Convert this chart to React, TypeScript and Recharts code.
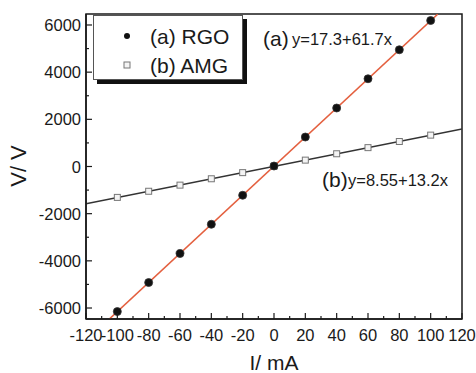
import React from 'react';
import { ComposedChart, Line, XAxis, YAxis, ReferenceArea } from 'recharts';

const currents = [-100, -80, -60, -40, -20, 0, 20, 40, 60, 80, 100];
const rgoVoltage = [-6150, -4920, -3690, -2450, -1220, 20, 1250, 2480, 3720, 4950, 6190];
const amgVoltage = [-1310, -1050, -790, -520, -260, 10, 270, 540, 800, 1060, 1330];

// fitted lines, end points at the plot edges
const rgoFitX = [-104.8, 104.5];
const rgoFitY = [-6450, 6460];
const amgFitX = [-120, 120];
const amgFitY = [-1575, 1593];

const xTicks = [-120, -110, -100, -90, -80, -70, -60, -50, -40, -30, -20, -10, 0, 10, 20, 30, 40, 50, 60, 70, 80, 90, 100, 110, 120];
const yTicks = [-6000, -5000, -4000, -3000, -2000, -1000, 0, 1000, 2000, 3000, 4000, 5000, 6000];

const rgoData = currents.map((x, i) => ({ x, y: rgoVoltage[i] }));
const amgData = currents.map((x, i) => ({ x, y: amgVoltage[i] }));
const rgoFit = rgoFitX.map((x, i) => ({ x, y: rgoFitY[i] }));
const amgFit = amgFitX.map((x, i) => ({ x, y: amgFitY[i] }));

const FONT = 'Liberation Sans, Arial, sans-serif';
const INK = '#1a1a1a';

const XTick = (props: any) => {
  const { x, y, payload } = props;
  const major = payload.value % 20 === 0;
  return (
    <g>
      <line x1={x} y1={y} x2={x} y2={y - (major ? 6 : 3)} stroke={INK} strokeWidth={1.2} />
      {major && (
        <text x={x} y={y + 22} textAnchor="middle" fontSize={16.5} fill={INK} fontFamily={FONT}>
          {payload.value}
        </text>
      )}
    </g>
  );
};

const YTick = (props: any) => {
  const { x, y, payload } = props;
  const major = payload.value % 2000 === 0;
  return (
    <g>
      <line x1={x} y1={y} x2={x + (major ? 6 : 3)} y2={y} stroke={INK} strokeWidth={1.2} />
      {major && (
        <text x={x - 5} y={y + 6} textAnchor="end" fontSize={16.5} fill={INK} fontFamily={FONT}>
          {payload.value}
        </text>
      )}
    </g>
  );
};

const Dot = (props: any) => {
  const { cx, cy } = props;
  return <circle cx={cx} cy={cy} r={4} fill="#111" stroke="#333" strokeWidth={0.8} />;
};

const Square = (props: any) => {
  const { cx, cy } = props;
  return <rect x={cx - 3} y={cy - 3} width={6} height={6} fill="#f4f4f4" stroke="#777" strokeWidth={1} />;
};

export default function App() {
  return (
    <div style={{ position: 'absolute', left: 0, top: 0, width: 476, height: 373, background: '#fff', fontFamily: FONT }}>
      <ComposedChart width={476} height={373} margin={{ top: 14, right: 14, bottom: 0, left: 0 }}>
        <XAxis
          type="number"
          dataKey="x"
          domain={[-120, 120]}
          ticks={xTicks}
          interval={0}
          allowDataOverflow
          height={54}
          tickSize={0}
          tickMargin={0}
          tickLine={false}
          axisLine={{ stroke: INK, strokeWidth: 1.5 }}
          tick={<XTick />}
        />
        <YAxis
          type="number"
          dataKey="y"
          domain={[-6466, 6466]}
          ticks={yTicks}
          interval={0}
          allowDataOverflow
          width={86}
          tickSize={0}
          tickMargin={0}
          tickLine={false}
          axisLine={{ stroke: INK, strokeWidth: 1.5 }}
          tick={<YTick />}
        />
        <ReferenceArea x1={-120} x2={120} y1={-6466} y2={6466} fill="none" stroke={INK} strokeWidth={1.5} />
        <Line data={amgFit} dataKey="y" stroke="#333" strokeWidth={1.5} dot={false} isAnimationActive={false} />
        <Line data={rgoFit} dataKey="y" stroke="#e4603f" strokeWidth={1.5} dot={false} isAnimationActive={false} />
        <Line data={amgData} dataKey="y" stroke="none" dot={<Square />} isAnimationActive={false} />
        <Line data={rgoData} dataKey="y" stroke="none" dot={<Dot />} isAnimationActive={false} />
      </ComposedChart>

      {/* legend box with shadow */}
      <div style={{ position: 'absolute', left: 97, top: 19, width: 150, height: 65, background: '#111' }} />
      <div style={{ position: 'absolute', left: 93, top: 15, width: 148, height: 63, background: '#fff', border: '1px solid #555' }}>
        <svg width={148} height={63} style={{ position: 'absolute', left: 0, top: 0 }}>
          <circle cx={33} cy={20} r={3} fill="#111" />
          <rect x={30} y={46} width={6} height={6} fill="#f4f4f4" stroke="#777" strokeWidth={1} />
          <text x={56} y={28} fontSize={21} fill={INK} fontFamily={FONT}>(a) RGO</text>
          <text x={56} y={57} fontSize={21} fill={INK} fontFamily={FONT}>(b) AMG</text>
        </svg>
      </div>

      <svg width={476} height={373} style={{ position: 'absolute', left: 0, top: 0, pointerEvents: 'none' }}>
        <text x={263} y={46} fontSize={21} fill={INK} fontFamily={FONT}>(a)</text>
        <text x={292} y={45} fontSize={16.5} fill={INK} fontFamily={FONT}>y=17.3+61.7x</text>
        <text x={322} y={187} fontSize={21} fill={INK} fontFamily={FONT}>(b)</text>
        <text x={348} y={186} fontSize={16.5} fill={INK} fontFamily={FONT}>y=8.55+13.2x</text>
        <text x={274} y={370} fontSize={21} fill={INK} textAnchor="middle" fontFamily={FONT}>I/ mA</text>
        <text x={26} y={166} fontSize={22} fill={INK} textAnchor="middle" fontFamily={FONT} transform="rotate(-90 26 166)">V/ V</text>
      </svg>
    </div>
  );
}
